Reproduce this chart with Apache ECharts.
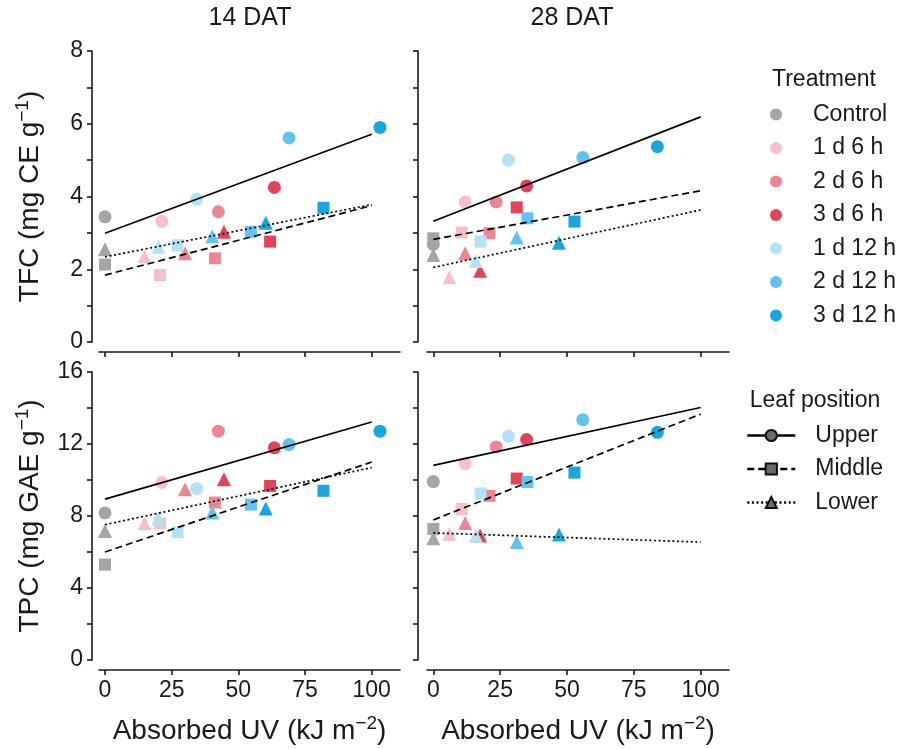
<!DOCTYPE html>
<html>
<head>
<meta charset="utf-8">
<script src="https://cdn.jsdelivr.net/npm/echarts@6/dist/echarts.min.js"></script>
<style>
  html, body { margin: 0; padding: 0; background: #fff; }
  #main { width: 903px; height: 749px; }
</style>
</head>
<body>
<div id="main"></div>
<script>
var treatments = ['Control', '1 d 6 h', '2 d 6 h', '3 d 6 h', '1 d 12 h', '2 d 12 h', '3 d 12 h'];
var colors = ['#a5a5a5', '#f5c0c8', '#ee8594', '#e0435a', '#b3e2f6', '#61c3ee', '#17a6e0'];
var leaves = ['Upper', 'Middle', 'Lower'];
var xTicks = [0, 25, 50, 75, 100];
var fitX = [0, 100];

// absorbed UV (kJ m-2), one value per treatment
var uv14Upper = [0, 21.3, 42.5, 63.5, 34.4, 69.0, 103.1];
var uv14Middle = [0, 20.6, 41.2, 61.9, 27.2, 54.7, 81.9];
var uv14Lower = [0, 14.8, 30.0, 44.6, 20.0, 40.2, 60.3];
var uv28Upper = [0, 11.9, 23.5, 34.9, 28.1, 55.9, 83.8];
var uv28Middle = [0, 10.6, 21.0, 31.2, 17.7, 35.2, 52.8];
var uv28Lower = [0, 6.0, 11.9, 17.5, 15.9, 31.2, 47.0];

// TFC (mg CE g-1)
var tfc14Upper = [3.44, 3.32, 3.58, 4.25, 3.93, 5.61, 5.90];
var tfc14Middle = [2.13, 1.84, 2.30, 2.76, 2.66, 3.03, 3.69];
var tfc14Lower = [2.55, 2.36, 2.44, 3.03, 2.62, 2.91, 3.28];
var tfc28Upper = [2.68, 3.85, 3.85, 4.29, 5.00, 5.07, 5.37];
var tfc28Middle = [2.85, 3.01, 2.99, 3.70, 2.76, 3.40, 3.31];
var tfc28Lower = [2.39, 1.78, 2.44, 1.96, 2.23, 2.87, 2.73];

// TPC (mg GAE g-1)
var tpc14Upper = [8.17, 9.86, 12.71, 11.79, 9.53, 11.97, 12.71];
var tpc14Middle = [5.30, 7.60, 8.75, 9.67, 7.10, 8.63, 9.40];
var tpc14Lower = [7.16, 7.60, 9.49, 10.04, 7.87, 8.20, 8.42];
var tpc28Upper = [9.91, 10.91, 11.84, 12.25, 12.43, 13.35, 12.65];
var tpc28Middle = [7.28, 8.39, 9.12, 10.08, 9.25, 9.89, 10.41];
var tpc28Lower = [6.77, 7.01, 7.61, 6.92, 6.92, 6.55, 6.97];

// regression lines, value at x = 0 and x = 100 (Upper, Middle, Lower)
var tfc14Fit = [[2.99, 5.71], [1.84, 3.75], [2.34, 3.78]];
var tfc28Fit = [[3.32, 6.19], [2.82, 4.16], [2.05, 3.63]];
var tpc14Fit = [[8.94, 13.22], [6.00, 11.00], [7.52, 10.69]];
var tpc28Fit = [[10.81, 14.03], [7.78, 13.66], [7.06, 6.55]];

var FONT = 'Liberation Sans';
var INK = '#1a1a1a';
var symbols = ['circle', 'rect', 'triangle'];
var symSizes = [13, 12, 14];
var lineTypes = ['solid', [7, 4], [2, 2.6]];

var panels = [
  { uv: [uv14Upper, uv14Middle, uv14Lower], y: [tfc14Upper, tfc14Middle, tfc14Lower], fit: tfc14Fit },
  { uv: [uv28Upper, uv28Middle, uv28Lower], y: [tfc28Upper, tfc28Middle, tfc28Lower], fit: tfc28Fit },
  { uv: [uv14Upper, uv14Middle, uv14Lower], y: [tpc14Upper, tpc14Middle, tpc14Lower], fit: tpc14Fit },
  { uv: [uv28Upper, uv28Middle, uv28Lower], y: [tpc28Upper, tpc28Middle, tpc28Lower], fit: tpc28Fit }
];

var grids = [
  { left: 99, top: 51, width: 301, height: 291 },
  { left: 427, top: 51, width: 302, height: 291 },
  { left: 99, top: 372, width: 301, height: 290 },
  { left: 427, top: 372, width: 302, height: 290 }
];

var xName = 'Absorbed UV (kJ m{sup|\u22122})';
var supRich = { sup: { fontSize: 19, fontFamily: FONT, color: INK, lineHeight: 16, verticalAlign: 'top' } };

function makeX(i) {
  var bottom = i >= 2;
  return {
    type: 'value', gridIndex: i, position: 'bottom', offset: 10,
    min: i % 2 ? -2.36 : -2.25, max: 110.6,
    name: bottom ? xName : '', nameLocation: 'middle', nameGap: 44,
    nameTextStyle: { fontFamily: FONT, fontSize: 28, color: INK, lineHeight: 34, rich: supRich },
    axisLine: { onZero: false, lineStyle: { color: INK, width: 1.6 } },
    axisTick: { show: true, length: 5, customValues: xTicks, lineStyle: { color: INK, width: 1.6 } },
    axisLabel: { show: bottom, customValues: xTicks, margin: 9, fontFamily: FONT, fontSize: 23, color: INK },
    splitLine: { show: false }
  };
}

function makeY(i) {
  var top = i < 2, left = i % 2 === 0;
  var name = '';
  if (left) name = top ? 'TFC (mg CE g{sup|\u22121})' : 'TPC (mg GAE g{sup|\u22121})';
  return {
    type: 'value', gridIndex: i, position: 'left', offset: left ? 7 : 9,
    min: 0, max: top ? 8 : 16, interval: top ? 2 : 4,
    name: name, nameLocation: 'middle', nameGap: 45,
    nameTextStyle: { fontFamily: FONT, fontSize: 28, color: INK, lineHeight: 34, rich: supRich },
    axisLine: { show: true, onZero: false, lineStyle: { color: INK, width: 1.6 } },
    axisTick: { show: true, length: 5, lineStyle: { color: INK, width: 1.6 } },
    minorTick: { show: true, splitNumber: 2, length: 5, lineStyle: { color: INK, width: 1.6 } },
    axisLabel: { show: left, margin: 9, fontFamily: FONT, fontSize: 23, color: INK },
    splitLine: { show: false }
  };
}

var series = [];
panels.forEach(function (p, i) {
  treatments.forEach(function (t, k) {
    series.push({
      type: 'scatter', name: t, xAxisIndex: i, yAxisIndex: i, z: 2,
      symbol: 'circle', symbolSize: 13,
      itemStyle: { color: colors[k], opacity: 1 },
      data: leaves.map(function (l, j) {
        return { value: [p.uv[j][k], p.y[j][k]], symbol: symbols[j], symbolSize: symSizes[j] };
      })
    });
  });
  leaves.forEach(function (l, j) {
    series.push({
      type: 'line', name: l, xAxisIndex: i, yAxisIndex: i, z: 3,
      symbol: symbols[j], showSymbol: false, silent: true,
      lineStyle: { color: '#000', width: 1.7, type: lineTypes[j] },
      itemStyle: { color: '#6b6b6b', borderColor: '#111', borderWidth: 1.2 },
      data: fitX.map(function (x, m) { return [x, p.fit[j][m]]; })
    });
  });
});

var option = {
  animation: false,
  backgroundColor: '#fff',
  grid: grids,
  xAxis: [0, 1, 2, 3].map(makeX),
  yAxis: [0, 1, 2, 3].map(makeY),
  legend: [
    {
      data: treatments, orient: 'vertical', left: 765, top: 98,
      icon: 'circle', itemWidth: 12, itemHeight: 12, itemGap: 10.5,
      formatter: function (n) { return '{s|}' + n; },
      textStyle: { fontFamily: FONT, fontSize: 23, color: INK, lineHeight: 22, rich: { s: { width: 26 } } },
      selectedMode: false
    },
    {
      data: leaves, orient: 'vertical', left: 741, top: 419,
      itemWidth: 48, itemHeight: 14, itemGap: 10.5,
      lineStyle: { width: 2.6 },
      formatter: function (n) { return '{s|}' + n; },
      textStyle: { fontFamily: FONT, fontSize: 23, color: INK, lineHeight: 22, rich: { s: { width: 15 } } },
      selectedMode: false
    }
  ],
  graphic: [
    { type: 'text', x: 250, y: 18, style: { text: '14 DAT', font: '25px "Liberation Sans"', fill: INK, textAlign: 'center', textVerticalAlign: 'middle' } },
    { type: 'text', x: 572, y: 18, style: { text: '28 DAT', font: '25px "Liberation Sans"', fill: INK, textAlign: 'center', textVerticalAlign: 'middle' } },
    { type: 'text', x: 824, y: 80, style: { text: 'Treatment', font: '23px "Liberation Sans"', fill: INK, textAlign: 'center', textVerticalAlign: 'middle' } },
    { type: 'text', x: 815, y: 401, style: { text: 'Leaf position', font: '23px "Liberation Sans"', fill: INK, textAlign: 'center', textVerticalAlign: 'middle' } }
  ],
  series: series
};

var myChart = echarts.init(document.getElementById('main'), null, { renderer: 'canvas' });
myChart.setOption(option);
</script>
</body>
</html>
